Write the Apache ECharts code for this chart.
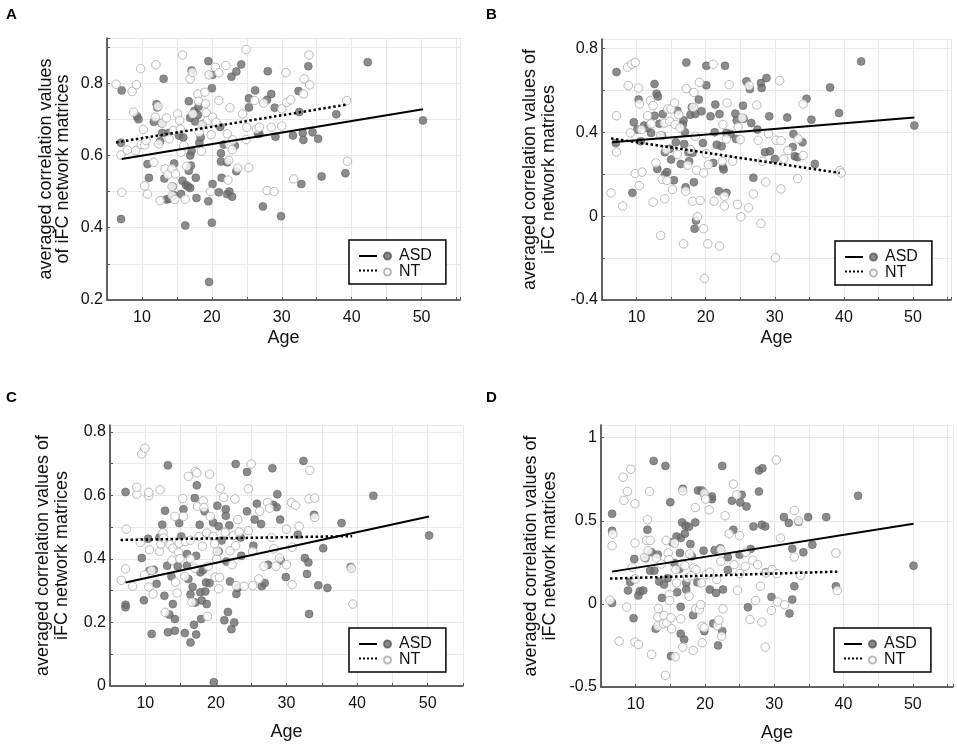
<!DOCTYPE html>
<html>
<head>
<meta charset="utf-8">
<script src="https://cdn.jsdelivr.net/npm/echarts@6/dist/echarts.min.js"></script>
<style>
  html, body { margin: 0; padding: 0; background: #fff; }
  #chart { width: 957px; height: 745px; }
</style>
</head>
<body>
<div id="chart"></div>
<script>
// ---- data: [age, averaged correlation] ----
const asdA = [[7.1,0.78],[7.0,0.635],[7.0,0.424],[9.3,0.708],[9.5,0.70],[10.8,0.576],[11.0,0.538],[11.7,0.693],[12.1,0.742],[12.2,0.733],[12.6,0.639],[12.8,0.689],[13.1,0.812],[12.9,0.662],[13.2,0.536],[13.5,0.478],[13.8,0.662],[13.9,0.48],[14.4,0.514],[14.6,0.578],[14.6,0.49],[15.3,0.655],[15.6,0.493],[15.8,0.53],[15.9,0.65],[16.3,0.518],[16.2,0.406],[16.7,0.75],[16.6,0.514],[16.7,0.558],[16.9,0.60],[16.9,0.51],[17.0,0.572],[17.1,0.835],[16.9,0.704],[17.1,0.612],[17.5,0.723],[17.6,0.694],[17.7,0.538],[17.8,0.482],[18.0,0.712],[18.1,0.735],[18.2,0.635],[18.4,0.65],[18.7,0.687],[19.5,0.861],[19.5,0.473],[19.6,0.25],[20.0,0.786],[20.1,0.521],[20.0,0.414],[20.1,0.823],[21.0,0.498],[21.2,0.679],[21.3,0.606],[21.3,0.583],[21.4,0.538],[21.7,0.63],[22.2,0.581],[22.2,0.493],[22.5,0.50],[22.8,0.818],[22.9,0.486],[23.3,0.627],[23.5,0.832],[23.5,0.556],[24.2,0.852],[25.3,0.733],[25.3,0.758],[26.2,0.78],[26.6,0.66],[26.8,0.66],[27.3,0.459],[27.9,0.754],[28.0,0.833],[28.5,0.77],[29.0,0.732],[29.1,0.652],[29.9,0.432],[31.6,0.655],[32.4,0.778],[32.5,0.72],[32.8,0.521],[33.0,0.662],[33.1,0.643],[33.8,0.847],[34.4,0.664],[35.2,0.646],[35.7,0.542],[37.8,0.714],[39.1,0.551],[42.3,0.858],[50.2,0.697]];
const ntA = [[6.3,0.797],[7.0,0.601],[7.1,0.498],[7.9,0.615],[8.6,0.777],[9.2,0.796],[8.8,0.72],[9.1,0.613],[9.8,0.84],[9.9,0.63],[10.2,0.672],[10.4,0.629],[10.4,0.516],[10.8,0.493],[10.6,0.641],[11.7,0.581],[12.0,0.851],[11.9,0.706],[12.3,0.736],[12.4,0.632],[12.6,0.475],[12.9,0.689],[13.3,0.563],[13.5,0.704],[13.7,0.547],[13.9,0.646],[14.3,0.563],[14.3,0.514],[14.3,0.489],[14.5,0.669],[14.7,0.478],[14.8,0.549],[15.1,0.715],[15.4,0.697],[15.5,0.673],[15.6,0.609],[15.8,0.878],[16.0,0.627],[16.2,0.479],[16.4,0.57],[16.9,0.812],[17.2,0.83],[17.3,0.715],[18.0,0.77],[18.1,0.75],[18.2,0.664],[18.5,0.612],[18.6,0.685],[19.0,0.775],[19.1,0.743],[19.2,0.718],[19.4,0.697],[19.6,0.823],[19.8,0.50],[19.9,0.657],[20.1,0.706],[20.5,0.844],[20.6,0.692],[21.0,0.752],[21.0,0.829],[22.0,0.849],[22.2,0.66],[22.3,0.532],[22.4,0.586],[22.5,0.63],[22.6,0.732],[22.9,0.616],[23.0,0.643],[23.7,0.565],[24.4,0.715],[24.9,0.893],[24.9,0.644],[25.0,0.678],[25.3,0.566],[26.1,0.752],[26.4,0.673],[26.8,0.678],[27.4,0.745],[27.9,0.503],[28.5,0.678],[28.9,0.50],[30.0,0.729],[30.0,0.681],[30.6,0.829],[30.7,0.747],[31.3,0.754],[31.7,0.535],[33.1,0.77],[33.2,0.812],[33.9,0.878],[34.0,0.795],[39.3,0.752],[39.4,0.584]];
const fitAsdA = [[7.1,0.59],[50.2,0.728]];
const fitNtA = [[6.3,0.636],[39.4,0.741]];

const asdB = [[7.1,0.687],[7.0,0.349],[9.4,0.111],[9.6,0.448],[10.1,0.413],[10.3,0.556],[10.6,0.357],[11.1,0.432],[11.6,0.421],[12.1,0.397],[12.6,0.63],[12.6,0.479],[12.9,0.584],[13.1,0.571],[13.0,0.225],[13.3,0.441],[13.7,0.384],[13.8,0.487],[14.1,0.305],[14.1,0.198],[14.4,0.21],[14.8,0.321],[15.0,0.27],[15.4,0.171],[15.7,0.352],[15.9,0.503],[16.4,0.249],[16.7,0.437],[16.8,0.457],[16.9,0.344],[17.0,0.4],[17.1,0.138],[17.2,0.733],[17.5,0.305],[17.6,0.262],[17.8,0.484],[18.0,0.519],[18.1,0.302],[18.3,0.162],[18.5,0.487],[18.6,-0.021],[18.4,-0.06],[19.0,0.556],[19.4,0.5],[19.6,0.349],[20.1,0.717],[20.1,0.624],[20.7,0.476],[21.1,0.254],[21.3,0.4],[21.4,0.532],[21.6,0.341],[21.9,0.119],[22.0,0.487],[22.3,0.333],[22.5,0.233],[22.6,0.222],[22.8,0.717],[23.0,0.111],[23.0,0.397],[23.6,0.392],[24.3,0.489],[24.4,0.368],[24.5,0.457],[25.4,0.527],[25.5,0.465],[25.9,0.643],[26.4,0.606],[26.6,0.444],[26.9,0.183],[27.5,0.413],[28.0,0.635],[28.1,0.611],[28.6,0.305],[28.8,0.659],[29.2,0.476],[29.3,0.31],[30.0,0.273],[31.8,0.471],[32.6,0.33],[32.7,0.392],[32.9,0.286],[33.3,0.281],[34.0,0.352],[34.6,0.56],[35.3,0.46],[35.8,0.249],[38.0,0.614],[39.3,0.492],[42.5,0.738],[50.2,0.432]];
const ntB = [[6.3,0.111],[7.1,0.479],[7.1,0.306],[8.0,0.048],[8.7,0.71],[8.8,0.622],[9.1,0.397],[9.3,0.725],[9.8,0.733],[9.8,0.203],[10.3,0.611],[10.4,0.146],[10.4,0.535],[10.8,0.21],[10.7,0.413],[11.6,0.479],[12.0,0.551],[12.1,0.44],[12.4,0.067],[12.4,0.527],[12.8,0.254],[13.5,-0.092],[13.5,0.384],[13.7,0.175],[14.0,0.444],[14.1,0.083],[14.3,0.317],[14.4,0.17],[14.5,0.511],[14.8,0.452],[15.0,0.511],[15.2,0.127],[15.5,0.54],[15.6,0.437],[15.9,0.294],[16.1,0.484],[16.3,0.421],[16.8,-0.132],[17.1,0.119],[17.2,0.608],[17.4,0.243],[17.8,0.317],[18.1,0.071],[18.2,0.519],[18.3,0.59],[18.5,0.381],[18.7,0.219],[18.8,-0.003],[19.1,0.638],[19.2,0.075],[19.7,0.206],[19.7,-0.06],[19.8,-0.298],[20.1,0.298],[20.3,-0.132],[20.4,0.246],[21.1,0.725],[21.2,0.071],[22.0,-0.143],[22.4,0.262],[22.5,0.437],[22.7,0.095],[22.7,0.048],[23.0,0.368],[23.1,0.54],[23.4,0.627],[23.9,0.262],[24.6,0.056],[24.7,0.425],[25.0,0.365],[25.1,-0.003],[25.3,0.468],[26.2,0.04],[26.3,0.622],[26.9,0.106],[27.4,0.53],[27.6,0.362],[28.0,-0.035],[28.2,0.262],[28.7,0.162],[29.1,0.394],[30.1,-0.198],[30.2,0.362],[30.7,0.646],[30.9,0.13],[30.9,0.36],[31.3,0.273],[31.9,0.313],[33.3,0.179],[33.4,0.368],[34.1,0.535],[34.1,0.289],[39.4,0.217],[39.6,0.206]];
const fitAsdB = [[6.5,0.352],[50.2,0.471]];
const fitNtB = [[6.3,0.371],[39.4,0.206]];

const asdC = [[7.2,0.611],[7.2,0.256],[7.2,0.248],[9.5,0.403],[9.8,0.27],[10.4,0.464],[10.6,0.363],[10.9,0.164],[11.2,0.366],[11.6,0.322],[12.0,0.468],[12.4,0.508],[12.7,0.284],[12.8,0.552],[13.1,0.379],[13.2,0.169],[13.2,0.695],[13.4,0.225],[13.7,0.345],[13.9,0.258],[14.2,0.211],[14.2,0.174],[14.6,0.377],[14.8,0.513],[15.1,0.471],[15.4,0.557],[15.6,0.167],[15.9,0.416],[15.9,0.379],[16.1,0.337],[16.4,0.137],[16.4,0.288],[16.7,0.312],[16.9,0.193],[17.0,0.592],[17.1,0.263],[17.2,0.41],[17.2,0.162],[17.3,0.632],[17.7,0.508],[17.8,0.295],[17.8,0.358],[17.9,0.211],[18.0,0.269],[18.2,0.366],[18.4,0.55],[18.5,0.298],[18.6,0.326],[18.7,0.258],[19.1,0.324],[19.6,0.515],[19.7,0.012],[20.2,0.568],[20.4,0.503],[20.4,0.424],[20.8,0.458],[21.2,0.207],[21.4,0.536],[21.4,0.557],[21.5,0.392],[21.7,0.233],[21.9,0.506],[22.0,0.329],[22.2,0.179],[22.6,0.2],[22.8,0.699],[22.9,0.29],[23.1,0.309],[23.5,0.468],[23.6,0.41],[24.4,0.674],[24.4,0.55],[25.3,0.442],[25.5,0.524],[25.8,0.574],[26.4,0.51],[26.5,0.314],[26.9,0.324],[27.4,0.382],[28.0,0.686],[28.1,0.571],[28.6,0.563],[28.7,0.604],[29.1,0.524],[29.2,0.395],[29.9,0.343],[31.6,0.476],[32.4,0.709],[32.6,0.403],[32.9,0.353],[33.1,0.389],[33.2,0.227],[33.9,0.539],[34.5,0.317],[35.2,0.434],[35.8,0.309],[37.8,0.513],[39.1,0.375],[42.3,0.599],[50.2,0.474]];
const ntC = [[6.6,0.333],[7.2,0.369],[7.3,0.494],[8.2,0.314],[8.8,0.604],[8.8,0.626],[9.3,0.452],[9.5,0.731],[9.95,0.749],[9.9,0.35],[10.5,0.599],[10.5,0.61],[10.6,0.429],[10.5,0.312],[10.9,0.364],[11.1,0.29],[12.0,0.424],[12.1,0.618],[12.2,0.447],[12.5,0.482],[12.6,0.466],[12.8,0.232],[13.5,0.445],[13.8,0.396],[13.9,0.434],[14.2,0.534],[14.3,0.327],[14.5,0.293],[14.7,0.421],[14.8,0.45],[14.9,0.401],[15.3,0.59],[15.4,0.534],[15.6,0.345],[15.7,0.455],[16.1,0.66],[16.4,0.459],[16.4,0.401],[16.6,0.264],[17.0,0.371],[17.1,0.676],[17.3,0.671],[17.4,0.566],[17.6,0.471],[18.1,0.44],[18.2,0.583],[18.3,0.562],[18.7,0.482],[18.8,0.219],[18.9,0.377],[19.1,0.667],[19.2,0.534],[19.6,0.471],[19.8,0.448],[19.9,0.343],[20.1,0.4],[20.2,0.424],[20.4,0.306],[20.5,0.342],[20.6,0.623],[21.1,0.594],[21.3,0.484],[22.0,0.426],[22.3,0.382],[22.5,0.474],[22.7,0.589],[22.8,0.442],[22.9,0.316],[23.1,0.524],[23.3,0.485],[24.0,0.314],[24.6,0.621],[24.6,0.489],[25.0,0.699],[25.2,0.316],[25.2,0.424],[26.1,0.337],[26.2,0.55],[26.8,0.377],[27.3,0.578],[27.6,0.56],[27.9,0.468],[28.2,0.432],[28.5,0.377],[29.0,0.403],[30.0,0.494],[30.0,0.382],[30.7,0.578],[30.8,0.319],[30.8,0.437],[31.3,0.569],[31.8,0.503],[33.2,0.589],[33.3,0.679],[34.0,0.592],[34.0,0.531],[39.2,0.371],[39.4,0.258]];
const fitAsdC = [[7.2,0.326],[50.2,0.534]];
const fitNtC = [[6.5,0.46],[39.3,0.472]];

const asdD = [[6.6,0.542],[6.6,0.44],[6.6,0.006],[8.9,0.08],[9.2,0.132],[9.7,-0.086],[9.8,0.27],[10.4,0.05],[10.6,0.076],[11.1,0.08],[11.4,0.274],[11.7,0.446],[12.1,0.2],[12.3,0.31],[12.6,0.86],[12.7,0.2],[12.9,-0.15],[13.2,0.296],[13.4,0.134],[13.8,0.036],[14.1,0.116],[14.3,0.83],[14.6,0.154],[15.0,0.612],[15.1,-0.314],[15.3,0.37],[15.6,0.246],[15.9,0.406],[16.0,0.07],[16.3,0.21],[16.4,0.306],[16.5,0.396],[16.5,-0.018],[16.5,-0.18],[16.7,0.49],[16.8,0.692],[17.0,-0.214],[17.1,0.422],[17.2,0.47],[17.3,0.126],[17.3,0.086],[17.7,0.464],[17.9,0.36],[18.1,0.286],[18.3,-0.068],[18.6,0.49],[18.9,0.13],[19.0,0.682],[19.5,0.682],[19.8,0.32],[19.8,0.666],[19.9,-0.164],[20.7,0.086],[21.0,0.63],[21.0,0.646],[21.2,-0.118],[21.4,0.322],[21.6,0.066],[21.9,-0.25],[22.2,0.334],[22.5,-0.164],[22.6,0.086],[22.5,0.83],[23.3,0.28],[23.3,0.204],[23.9,0.62],[24.1,0.446],[25.0,0.296],[25.1,0.61],[25.3,0.656],[26.0,0.586],[26.2,-0.02],[26.6,0.33],[27.0,0.466],[27.8,0.676],[27.8,0.802],[28.2,0.476],[28.3,0.816],[28.7,0.466],[28.8,0.19],[29.6,0.042],[31.4,0.522],[32.1,0.486],[32.2,-0.058],[32.6,0.026],[32.6,0.332],[32.9,0.106],[33.5,0.494],[34.2,0.31],[34.9,0.522],[35.5,0.356],[37.5,0.522],[38.9,0.106],[42.1,0.65],[50.1,0.23]];
const ntD = [[6.3,0.022],[6.7,0.42],[6.6,0.35],[7.6,-0.224],[8.2,0.762],[8.3,0.622],[8.7,-0.02],[8.8,0.676],[9.3,0.81],[9.5,0.22],[9.9,0.602],[9.9,0.366],[9.9,0.15],[9.9,-0.23],[10.4,-0.244],[11.3,0.28],[11.6,0.382],[11.7,0.506],[11.8,0.32],[12.0,0.676],[12.1,0.382],[12.3,-0.304],[13.0,0.276],[13.2,-0.078],[13.3,-0.028],[13.2,-0.134],[13.7,0.24],[14.0,-0.12],[14.1,-0.07],[14.3,-0.43],[14.4,0.382],[14.5,-0.114],[14.7,0.306],[14.8,0.266],[14.9,0.056],[14.9,0.02],[15.1,-0.084],[15.2,-0.15],[15.7,-0.318],[15.9,0.126],[15.6,0.366],[15.8,0.206],[16.5,-0.09],[16.7,0.242],[16.8,0.68],[16.8,-0.26],[17.1,0.23],[17.5,0.156],[17.7,0.046],[17.8,0.3],[18.0,0.17],[18.3,-0.28],[18.4,0.216],[18.6,0.58],[18.7,0.206],[18.7,-0.03],[19.2,-0.034],[19.4,-0.004],[19.5,0.126],[19.6,-0.134],[19.6,-0.234],[19.9,-0.144],[19.9,0.666],[20.1,0.63],[20.2,0.176],[20.6,0.566],[20.7,0.19],[21.7,0.146],[21.8,-0.13],[22.0,-0.098],[22.3,0.256],[22.4,-0.194],[22.3,0.326],[22.6,-0.03],[22.9,0.53],[23.5,0.422],[24.1,0.72],[24.2,0.236],[24.6,0.656],[24.7,0.082],[25.0,0.41],[25.0,0.182],[25.8,0.226],[25.9,0.31],[26.5,-0.094],[26.9,0.262],[27.3,0.02],[27.6,0.236],[28.0,0.106],[28.2,-0.11],[28.7,-0.26],[28.8,0.186],[29.6,-0.04],[29.7,0.206],[30.3,0.866],[30.4,0.182],[30.5,0.012],[30.9,0.396],[31.5,-0.006],[32.9,0.562],[32.9,0.282],[33.5,0.5],[33.8,0.172],[38.9,0.306],[39.1,0.08]];
const fitAsdD = [[6.6,0.194],[50.1,0.482]];
const fitNtD = [[6.3,0.152],[39.1,0.194]];

const panelLetters = ['A', 'B', 'C', 'D'];
const groupNames = ['ASD', 'NT'];
const yTitles = [
    'averaged correlation values\nof iFC network matrices',
    'averaged correlation values of\niFC network matrices',
    'averaged correlation values of\niFC network matrices',
    'averaged correlation values of\niFC network matrices'
];

const FONT = 'Liberation Sans, Arial, sans-serif';

// layout of each panel (pixels) and y scale
const panels = [
    { asd: asdA, nt: ntA, fitAsd: fitAsdA, fitNt: fitNtA,
      grid: { left: 107, top: 38, width: 353, height: 262 }, xMax: 55.5,
      yMin: 0.2, yMax: 0.925, yStep: 0.1, labelEvery: 2, nameGap: 35, nameLH: 17, ageGap: 29,
      box: { left: 349, top: 240 }, letter: { left: 6, top: 7 } },
    { asd: asdB, nt: ntB, fitAsd: fitAsdB, fitNt: fitNtB,
      grid: { left: 602, top: 39, width: 349, height: 261 }, xMax: 55.5,
      yMin: -0.4, yMax: 0.845, yStep: 0.2, labelEvery: 2, nameGap: 43, nameLH: 19, ageGap: 29,
      box: { left: 835, top: 241 }, letter: { left: 486, top: 7 } },
    { asd: asdC, nt: ntC, fitAsd: fitAsdC, fitNt: fitNtC,
      grid: { left: 110, top: 425, width: 353, height: 261 }, xMax: 55,
      yMin: 0, yMax: 0.822, yStep: 0.1, labelEvery: 2, nameGap: 38, nameLH: 19, ageGap: 37,
      box: { left: 349, top: 628 }, letter: { left: 6, top: 390 } },
    { asd: asdD, nt: ntD, fitAsd: fitAsdD, fitNt: fitNtD,
      grid: { left: 601, top: 425, width: 352, height: 262 }, xMax: 55.8,
      yMin: -0.5, yMax: 1.076, yStep: 0.5, labelEvery: 1, nameGap: 41, nameLH: 19, ageGap: 37,
      box: { left: 834, top: 628 }, letter: { left: 486, top: 390 } }
];

const chart = echarts.init(document.getElementById('chart'), null, { renderer: 'canvas' });

const option = {
    backgroundColor: '#fff',
    animation: false,
    textStyle: { fontFamily: FONT },
    title: [],
    grid: [],
    xAxis: [],
    yAxis: [],
    legend: [],
    series: []
};

panels.forEach((p, i) => {
    option.title.push({
        text: panelLetters[i],
        left: p.letter.left, top: p.letter.top, padding: 0,
        textStyle: { fontFamily: FONT, fontSize: 15, fontWeight: 'bold', color: '#000' }
    });

    option.grid.push(Object.assign({ containLabel: false }, p.grid));

    option.xAxis.push({
        gridIndex: i, type: 'value', min: 5, max: p.xMax, interval: 5,
        name: 'Age', nameLocation: 'middle', nameGap: p.ageGap,
        nameTextStyle: { fontFamily: FONT, fontSize: 18, color: '#111' },
        axisLine: { onZero: false, lineStyle: { color: '#333', width: 1.5 } },
        axisTick: { show: true, inside: true, length: 3, lineStyle: { color: '#555' } },
        axisLabel: {
            fontFamily: FONT, fontSize: 16, color: '#111', margin: 10,
            formatter: v => (Math.round(v) % 10 === 0 ? String(Math.round(v)) : '')
        },
        splitLine: { show: true, lineStyle: { color: '#e8e8e8', width: 1 } }
    });

    const step = p.yStep, every = p.labelEvery, y0 = p.yMin;
    option.yAxis.push({
        gridIndex: i, type: 'value', min: p.yMin, max: p.yMax, interval: p.yStep,
        name: yTitles[i], nameLocation: 'middle', nameGap: p.nameGap, nameRotate: 90,
        nameTextStyle: { fontFamily: FONT, fontSize: 18, color: '#111', lineHeight: p.nameLH, align: 'center' },
        axisLine: { show: true, onZero: false, lineStyle: { color: '#333', width: 1.5 } },
        axisTick: { show: true, inside: true, length: 3, lineStyle: { color: '#555' } },
        axisLabel: {
            fontFamily: FONT, fontSize: 16, color: '#111', margin: 4,
            formatter: v => {
                const k = Math.round((v - y0) / step);
                return k % every === 0 ? String(+v.toFixed(2)) : '';
            }
        },
        splitLine: { show: true, lineStyle: { color: '#e8e8e8', width: 1 } }
    });

    // scatter points
    option.series.push({
        name: 'ASD', type: 'scatter', xAxisIndex: i, yAxisIndex: i, z: 2,
        symbol: 'circle', symbolSize: 8,
        itemStyle: { color: '#6e6e6e', borderColor: '#585858', borderWidth: 0.6 },
        data: p.asd
    });
    option.series.push({
        name: 'NT', type: 'scatter', xAxisIndex: i, yAxisIndex: i, z: 2,
        symbol: 'circle', symbolSize: 8.5,
        itemStyle: { color: '#fff', borderColor: '#a8a8a8', borderWidth: 1 },
        data: p.nt
    });
    // fitted lines
    option.series.push({
        name: 'ASD fit', type: 'line', xAxisIndex: i, yAxisIndex: i, z: 3,
        symbol: 'none', silent: true,
        itemStyle: { color: '#000' },
        lineStyle: { color: '#000', width: 2, type: 'solid' },
        data: p.fitAsd
    });
    option.series.push({
        name: 'NT fit', type: 'line', xAxisIndex: i, yAxisIndex: i, z: 3,
        symbol: 'none', silent: true,
        itemStyle: { color: '#000' },
        lineStyle: { color: '#000', width: 2.5, type: 'dotted' },
        data: p.fitNt
    });

    // legend box: markers + text (with border), then line samples on top
    option.legend.push({
        data: groupNames, orient: 'vertical', selectedMode: false,
        left: p.box.left, top: p.box.top,
        padding: [8, 14, 4, 34], itemGap: 0, itemWidth: 7, itemHeight: 7,
        icon: 'circle',
        backgroundColor: '#fff', borderColor: '#000', borderWidth: 1.5, borderRadius: 0,
        textStyle: { fontFamily: FONT, fontSize: 16, lineHeight: 16, color: '#111', padding: [0, 0, 0, 3] },
        z: 5
    });
    option.legend.push({
        data: ['ASD fit', 'NT fit'], orient: 'vertical', selectedMode: false,
        left: p.box.left + 9, top: p.box.top + 8,
        padding: 0, itemGap: 0, itemWidth: 18, itemHeight: 16,
        itemStyle: { color: 'rgba(0,0,0,0)', borderColor: 'rgba(0,0,0,0)', borderWidth: 0 },
        formatter: () => '',
        textStyle: { fontSize: 1 },
        z: 6
    });
});

chart.setOption(option);
window.addEventListener('resize', () => chart.resize());
</script>
</body>
</html>
